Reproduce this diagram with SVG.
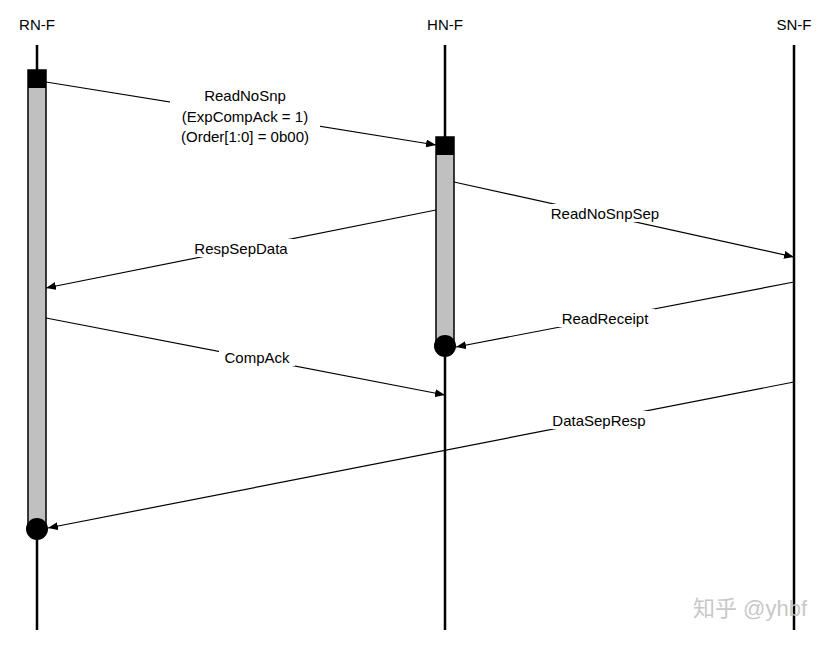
<svg xmlns="http://www.w3.org/2000/svg" width="838" height="646" viewBox="0 0 838 646">
<style>
.t{font-family:"Liberation Sans",Arial,sans-serif;font-size:15px;fill:#000;text-anchor:middle}
.life{stroke:#000;stroke-width:2.5}
.bar{fill:#c0c0c0;stroke:#000;stroke-width:1.5}
.msg{stroke:#000;stroke-width:1.2;fill:none;marker-end:url(#ah)}
.bg{fill:#fff}
</style>
<defs>
<marker id="ah" markerWidth="10" markerHeight="8" refX="10" refY="4" orient="auto" markerUnits="userSpaceOnUse">
<path d="M0,0 L10,4 L0,8 Z" fill="#000"/>
</marker>
</defs>
<rect width="838" height="646" fill="#fff"/>
<g id="rn-f">
<text class="t" x="37" y="30">RN-F</text>
<line class="life" x1="37" y1="45" x2="37" y2="630"/>
<rect class="bar" x="28" y="70" width="18" height="460"/>
<rect x="28" y="70" width="18" height="18" fill="#000"/>
<circle cx="37" cy="529" r="11" fill="#000"/>
</g>
<g id="hn-f">
<text class="t" x="445" y="30">HN-F</text>
<line class="life" x1="445" y1="45" x2="445" y2="630"/>
<rect class="bar" x="436" y="137" width="18" height="210"/>
<rect x="436" y="137" width="18" height="18" fill="#000"/>
<circle cx="445" cy="346" r="11" fill="#000"/>
</g>
<g id="sn-f">
<text class="t" x="794" y="30">SN-F</text>
<line class="life" x1="794" y1="45" x2="794" y2="630"/>
</g>
<g id="connectors">
<line class="msg" x1="46" y1="82" x2="436" y2="145"/>
<line class="msg" x1="454" y1="182" x2="794" y2="257"/>
<line class="msg" x1="436" y1="210" x2="46" y2="288"/>
<line class="msg" x1="794" y1="282" x2="456" y2="347"/>
<line class="msg" x1="46" y1="318" x2="445" y2="395"/>
<line class="msg" x1="794" y1="382" x2="48" y2="528"/>
<rect class="bg" x="170" y="84" width="150" height="62"/>
<text class="t" x="245" y="101">ReadNoSnp</text>
<text class="t" x="245" y="122">(ExpCompAck = 1)</text>
<text class="t" x="245" y="142">(Order[1:0] = 0b00)</text>
<rect class="bg" x="542" y="204" width="126" height="18"/>
<text class="t" x="605" y="219">ReadNoSnpSep</text>
<rect class="bg" x="186" y="239" width="110" height="18"/>
<text class="t" x="241" y="254">RespSepData</text>
<rect class="bg" x="555" y="309" width="100" height="18"/>
<text class="t" x="605" y="324">ReadReceipt</text>
<rect class="bg" x="219" y="348" width="76" height="18"/>
<text class="t" x="257" y="363">CompAck</text>
<rect class="bg" x="545" y="411" width="108" height="18"/>
<text class="t" x="599" y="426">DataSepResp</text>
</g>
<text x="750" y="616" style="font-family:'Liberation Sans','Noto Sans CJK SC',sans-serif;font-size:22px;fill:#c8c8c8;text-anchor:middle">知乎 @yhbf</text>
</svg>
